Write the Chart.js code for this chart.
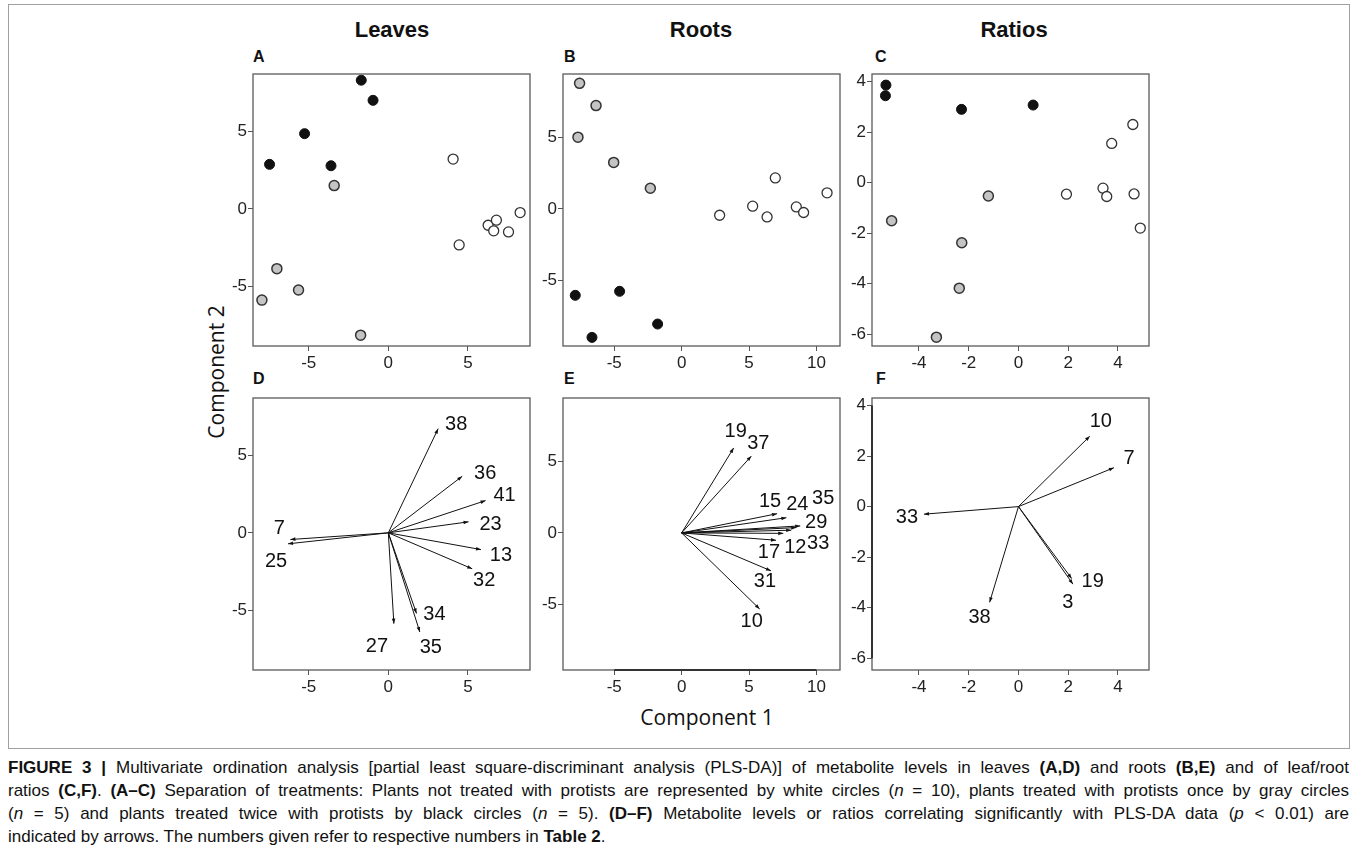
<!DOCTYPE html>
<html>
<head>
<meta charset="utf-8">
<script src="https://cdn.jsdelivr.net/npm/chart.js"></script>
<style>
  body { margin:0; width:1357px; height:866px; background:#fff; position:relative; overflow:hidden; font-family:'Liberation Sans', Arial, sans-serif; color:#111; }
  .frame { position:absolute; left:8px; top:4px; width:1340px; height:743px; border:1px solid #a0a0a0; }
  canvas.panel { position:absolute; }
  .title { position:absolute; top:17px; font-weight:bold; font-size:22px; transform:translateX(-50%); white-space:nowrap; }
  .letter { position:absolute; font-weight:bold; font-size:16px; line-height:16px; }
  .axlab { position:absolute; font-family:'Open Sans', sans-serif; font-size:21px; white-space:nowrap; }
  .caption { position:absolute; left:8px; top:756px; width:1341px; font-size:17px; line-height:23px; }
  .caption div { text-align:justify; text-align-last:justify; }
  .caption div.last { text-align-last:left; }
</style>
</head>
<body>
<div class="frame"></div>

<div class="title" style="left:392px">Leaves</div>
<div class="title" style="left:701px">Roots</div>
<div class="title" style="left:1014px">Ratios</div>

<div class="letter" style="left:253px;top:49px">A</div>
<div class="letter" style="left:564px;top:49px">B</div>
<div class="letter" style="left:875px;top:49px">C</div>
<div class="letter" style="left:253px;top:371px">D</div>
<div class="letter" style="left:564px;top:371px">E</div>
<div class="letter" style="left:876px;top:371px">F</div>

<div class="axlab" style="left:216px;top:372px;transform:translate(-50%,-50%) rotate(-90deg)">Component 2</div>
<div class="axlab" style="left:707px;top:717px;transform:translate(-50%,-50%)">Component 1</div>

<canvas class="panel" id="pA"></canvas>
<canvas class="panel" id="pB"></canvas>
<canvas class="panel" id="pC"></canvas>
<canvas class="panel" id="pD"></canvas>
<canvas class="panel" id="pE"></canvas>
<canvas class="panel" id="pF"></canvas>

<div class="caption">
  <div><b>FIGURE 3 |</b> Multivariate ordination analysis [partial least square-discriminant analysis (PLS-DA)] of metabolite levels in leaves <b>(A,D)</b> and roots <b>(B,E)</b> and of leaf/root</div>
  <div>ratios <b>(C,F)</b>. <b>(A–C)</b> Separation of treatments: Plants not treated with protists are represented by white circles (<i>n</i> = 10), plants treated with protists once by gray circles</div>
  <div>(<i>n</i> = 5) and plants treated twice with protists by black circles (<i>n</i> = 5). <b>(D–F)</b> Metabolite levels or ratios correlating significantly with PLS-DA data (<i>p</i> &lt; 0.01) are</div>
  <div class="last">indicated by arrows. The numbers given refer to respective numbers in <b>Table 2</b>.</div>
</div>

<script>
// tick labels
const leavesTicks = [-5, 0, 5];
const rootsXTicks = [-5, 0, 5, 10];
const rootsYTicks = [-5, 0, 5];
const ratiosXTicks = [-4, -2, 0, 2, 4];
const ratiosYTicks = [-6, -4, -2, 0, 2, 4];

// score plots (A-C): [component 1, component 2]
const leavesWhite = [[4.07,3.21],[4.45,-2.33],[6.27,-1.06],[6.79,-0.73],[6.62,-1.42],[7.55,-1.49],[8.28,-0.24]];
const leavesGray  = [[-3.4,1.5],[-7.0,-3.86],[-5.64,-5.24],[-7.94,-5.89],[-1.74,-8.15]];
const leavesBlack = [[-1.7,8.3],[-0.96,7.0],[-5.26,4.85],[-7.46,2.87],[-3.6,2.78]];

const rootsWhite = [[2.82,-0.44],[5.27,0.19],[6.34,-0.56],[6.95,2.16],[8.51,0.14],[9.05,-0.25],[10.79,1.12]];
const rootsGray  = [[-7.57,8.75],[-6.35,7.2],[-7.69,5.0],[-5.04,3.24],[-2.32,1.44]];
const rootsBlack = [[-7.89,-6.02],[-4.6,-5.74],[-6.65,-8.95],[-1.78,-8.02]];

const ratiosWhite = [[1.93,-0.46],[3.4,-0.22],[3.55,-0.55],[3.75,1.55],[4.6,2.3],[4.65,-0.45],[4.9,-1.8]];
const ratiosGray  = [[-5.1,-1.51],[-1.21,-0.53],[-2.28,-2.38],[-2.38,-4.18],[-3.3,-6.12]];
const ratiosBlack = [[-5.33,3.86],[-5.35,3.44],[-2.29,2.9],[0.59,3.07]];

// loading arrows (D-F)
const leavesArrowIds = ['38','36','41','23','13','32','7','25','34','27','35'];
const leavesArrowX = [3.13, 4.64, 6.11, 5.04, 5.82, 5.27, -6.15, -6.3, 1.77, 0.35, 1.98];
const leavesArrowY = [6.72, 3.65, 2.08, 0.71, -1.08, -2.32, -0.43, -0.71, -5.2, -5.86, -6.4];

const rootsArrowIds = ['19','37','15','24','35','29','33','12','17','31','10'];
const rootsArrowX = [3.86, 5.17, 7.08, 7.77, 8.8, 8.5, 8.13, 7.54, 7.0, 6.63, 5.79];
const rootsArrowY = [5.92, 5.35, 1.34, 1.06, 0.49, 0.37, 0.19, -0.03, -0.51, -2.64, -5.3];

const ratiosArrowIds = ['10','7','33','19','3','38'];
const ratiosArrowX = [2.87, 3.84, -3.8, 2.14, 2.19, -1.16];
const ratiosArrowY = [2.79, 1.54, -0.3, -2.85, -3.07, -3.79];

// label placement next to arrow tips (pixels)
const labelOffsets = {
  D: {'38':[18,-4],'36':[23,-3],'41':[19,-5],'23':[22,3],'13':[20,6],'32':[12,12],'7':[-11,-11],'25':[-12,18],'34':[18,1],'27':[-17,23],'35':[11,15]},
  E: {'19':[2,-16],'37':[7,-13],'15':[-7,-12],'24':[11,-13],'35':[23,-27],'29':[20,-5],'33':[27,13],'12':[12,14],'17':[-7,12],'31':[-6,11],'10':[-8,12]},
  F: {'10':[11,-15],'7':[15,-9],'33':[-17,3],'19':[21,3],'3':[-5,18],'38':[-10,15]}
};

const FONT = '"Liberation Sans", Arial, sans-serif';
const Y_W = 45, X_H = 40, PAD_T = 15, PAD_R = 10, BOX_W = 277, BOX_H = 272;

const decor = {
  id: 'decor',
  afterDatasetsDraw(chart, args, opts) {
    const ctx = chart.ctx;
    chart.data.datasets.forEach((ds, i) => {
      if (!ds.arrowLabel) return;
      const pts = chart.getDatasetMeta(i).data;
      const a = pts[0], b = pts[1];
      const ang = Math.atan2(b.y - a.y, b.x - a.x);
      const c = Math.cos(ang), s = Math.sin(ang);
      ctx.save();
      ctx.fillStyle = '#111';
      ctx.beginPath();
      ctx.moveTo(b.x, b.y);
      ctx.lineTo(b.x - 5 * c + 1.8 * s, b.y - 5 * s - 1.8 * c);
      ctx.lineTo(b.x - 5 * c - 1.8 * s, b.y - 5 * s + 1.8 * c);
      ctx.closePath();
      ctx.fill();
      const off = (opts.offsets || {})[ds.arrowLabel] || [0, 0];
      ctx.font = '20px ' + FONT;
      ctx.textAlign = 'center';
      ctx.textBaseline = 'middle';
      ctx.fillText(ds.arrowLabel, b.x + off[0], b.y + off[1]);
      ctx.restore();
    });
  },
  afterDraw(chart, args, opts) {
    const { ctx, chartArea: ca, scales } = chart;
    ctx.save();
    ctx.strokeStyle = '#5a5a5a';
    ctx.lineWidth = 1.3;
    ctx.strokeRect(ca.left, ca.top, ca.right - ca.left, ca.bottom - ca.top);
    ctx.strokeStyle = '#333';
    ctx.lineWidth = 2;
    if (opts.axisX) {
      const t = scales.x.ticks;
      ctx.beginPath();
      ctx.moveTo(scales.x.getPixelForValue(t[0].value), ca.bottom);
      ctx.lineTo(scales.x.getPixelForValue(t[t.length - 1].value), ca.bottom);
      ctx.stroke();
    }
    if (opts.axisY) {
      const t = scales.y.ticks;
      ctx.beginPath();
      ctx.moveTo(ca.left, scales.y.getPixelForValue(t[0].value));
      ctx.lineTo(ca.left, scales.y.getPixelForValue(t[t.length - 1].value));
      ctx.stroke();
    }
    ctx.restore();
  }
};

function axis(range, ticks, isX) {
  return {
    type: 'linear',
    min: range[0],
    max: range[1],
    afterBuildTicks: s => { s.ticks = ticks.map(v => ({ value: v })); },
    afterFit: s => { if (isX) s.height = X_H; else s.width = Y_W; },
    grid: { drawOnChartArea: false, drawTicks: true, tickLength: 5, color: '#555' },
    border: { display: false },
    ticks: { color: '#222', padding: isX ? 2 : 1, maxRotation: 0, autoSkip: false,
             font: { family: FONT, size: 17 }, callback: v => String(v) }
  };
}

function scoreSets(white, gray, black) {
  const pts = arr => arr.map(p => ({ x: p[0], y: p[1] }));
  return [
    { data: pts(white), pointRadius: 5, backgroundColor: '#ffffff', borderColor: '#333', borderWidth: 1.3 },
    { data: pts(gray),  pointRadius: 5, backgroundColor: '#c4c4c4', borderColor: '#333', borderWidth: 1.5 },
    { data: pts(black), pointRadius: 5, backgroundColor: '#111111', borderColor: '#111', borderWidth: 1 }
  ];
}

function arrowSets(ids, xs, ys) {
  return ids.map((id, i) => ({
    arrowLabel: id,
    data: [{ x: 0, y: 0 }, { x: xs[i], y: ys[i] }],
    showLine: true, pointRadius: 0, borderColor: '#111', borderWidth: 1
  }));
}

function panel(id, boxLeft, boxTop, xr, yr, xt, yt, datasets, extra) {
  const cv = document.getElementById(id);
  cv.width = Y_W + BOX_W + PAD_R;
  cv.height = PAD_T + BOX_H + X_H;
  cv.style.left = (boxLeft - Y_W) + 'px';
  cv.style.top = (boxTop - PAD_T) + 'px';
  new Chart(cv, {
    type: 'scatter',
    data: { datasets: datasets.map(d => Object.assign({ clip: false }, d)) },
    options: {
      responsive: false,
      animation: false,
      layout: { padding: { top: PAD_T, right: PAD_R, left: 0, bottom: 0 } },
      plugins: { legend: { display: false }, tooltip: { enabled: false }, decor: extra || {} },
      scales: { x: axis(xr, xt, true), y: axis(yr, yt, false) }
    },
    plugins: [decor]
  });
}

const leavesX = [-8.5, 8.9], leavesY = [-8.85, 8.7];
const rootsX = [-8.8, 11.75], rootsY = [-9.55, 9.4];
const ratiosX = [-5.89, 5.25], ratiosY = [-6.47, 4.3];

panel('pA', 253, 74, leavesX, leavesY, leavesTicks, leavesTicks, scoreSets(leavesWhite, leavesGray, leavesBlack));
panel('pB', 563, 74, rootsX, rootsY, rootsXTicks, rootsYTicks, scoreSets(rootsWhite, rootsGray, rootsBlack));
panel('pC', 872, 74, ratiosX, ratiosY, ratiosXTicks, ratiosYTicks, scoreSets(ratiosWhite, ratiosGray, ratiosBlack));
panel('pD', 253, 398, leavesX, leavesY, leavesTicks, leavesTicks, arrowSets(leavesArrowIds, leavesArrowX, leavesArrowY), { offsets: labelOffsets.D });
panel('pE', 563, 398, rootsX, rootsY, rootsXTicks, rootsYTicks, arrowSets(rootsArrowIds, rootsArrowX, rootsArrowY), { offsets: labelOffsets.E, axisX: true });
panel('pF', 872, 398, ratiosX, ratiosY, ratiosXTicks, ratiosYTicks, arrowSets(ratiosArrowIds, ratiosArrowX, ratiosArrowY), { offsets: labelOffsets.F, axisY: true });
</script>
</body>
</html>
